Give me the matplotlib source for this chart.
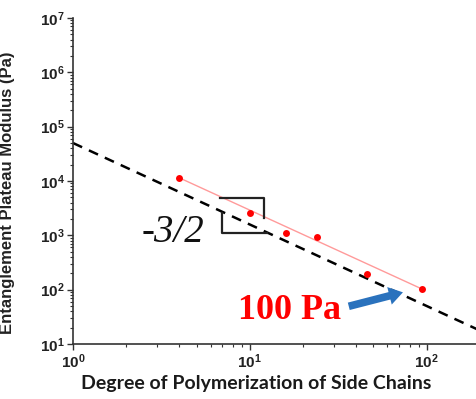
import matplotlib
matplotlib.use("Agg")
import matplotlib.pyplot as plt
from matplotlib.ticker import LogLocator, NullFormatter

plt.rcParams["font.family"] = "Liberation Sans"
plt.rcParams["font.weight"] = "bold"
plt.rcParams["mathtext.fontset"] = "custom"
plt.rcParams["mathtext.rm"] = "Liberation Sans:bold"
plt.rcParams["mathtext.it"] = "Liberation Sans:bold"
plt.rcParams["mathtext.bf"] = "Liberation Sans:bold"
plt.rcParams["mathtext.default"] = "rm"

# measured plateau modulus vs side-chain length
dp_side = [4, 10, 16, 24, 46, 94]
modulus = [11400, 2600, 1100, 940, 195, 103]

# straight guide through the first and last point
fit_x = [4, 94]
fit_y = [11400, 103]

# -3/2 scaling line
scaling_x = [1, 200]
scaling_y = [50000, 17.7]

fig = plt.figure(figsize=(4.76, 3.99), dpi=100)
ax = fig.add_axes([0.1534, 0.1378, 0.8466, 0.8171])

ax.plot(scaling_x, scaling_y, ls=(0, (4, 3)), color="black", lw=1.8, zorder=2)
ax.plot(fit_x, fit_y, color="#ff9a9a", lw=1.0, zorder=3)
ax.plot(dp_side, modulus, "o", color="red", ms=5, mec="none", zorder=4)

ax.set_xscale("log")
ax.set_yscale("log")
ax.set_xlim(1, 190)
ax.set_ylim(10, 1e7)

for side in ("top", "right"):
    ax.spines[side].set_visible(False)
for side in ("left", "bottom"):
    ax.spines[side].set_linewidth(1.2)
    ax.spines[side].set_color("#333333")

ax.yaxis.set_major_locator(LogLocator(base=10, numticks=10))
ax.yaxis.set_minor_locator(LogLocator(base=10, subs=range(2, 10), numticks=20))
ax.yaxis.set_minor_formatter(NullFormatter())
ax.xaxis.set_minor_formatter(NullFormatter())
ax.tick_params(which="major", direction="out", length=4, width=1.0, colors="#333333",
               labelsize=11, labelcolor="#222222", pad=2)
ax.tick_params(which="minor", direction="out", length=2.5, width=0.8, colors="#333333")

ax.set_ylabel("Entanglement Plateau Modulus (Pa)", fontsize=12, fontweight="bold",
              color="#222222")
ax.yaxis.set_label_coords(-0.145, 0.465)
ax.set_xlabel("Degree of Polymerization of Side Chains", fontsize=14, fontweight="bold",
              family="Lato", color="#1a1a1a")
ax.xaxis.set_label_coords(0.455, -0.095)

# slope triangle marker
ax.plot([6.8, 12.0, 12.0], [4900, 4900, 2090], color="#222222", lw=1.6, zorder=5)
ax.plot([7.0, 7.0, 12.5], [2580, 1100, 1100], color="#222222", lw=1.6, zorder=5)
ax.text(5.5, 1150, "-3/2", fontsize=28, style="italic", fontweight="normal",
        family="Liberation Serif", ha="right", va="center", color="#111111")

ax.text(33, 42, "100 Pa", fontsize=26, fontweight="bold", family="Liberation Serif",
        ha="right", va="center", color="red")
ax.annotate("", xy=(76, 92), xytext=(35, 48),
            arrowprops=dict(arrowstyle="simple,head_length=1.0,head_width=1.3,tail_width=0.55",
                            color="#2a72bd", lw=0))

fig.savefig("out.png", dpi=100)
